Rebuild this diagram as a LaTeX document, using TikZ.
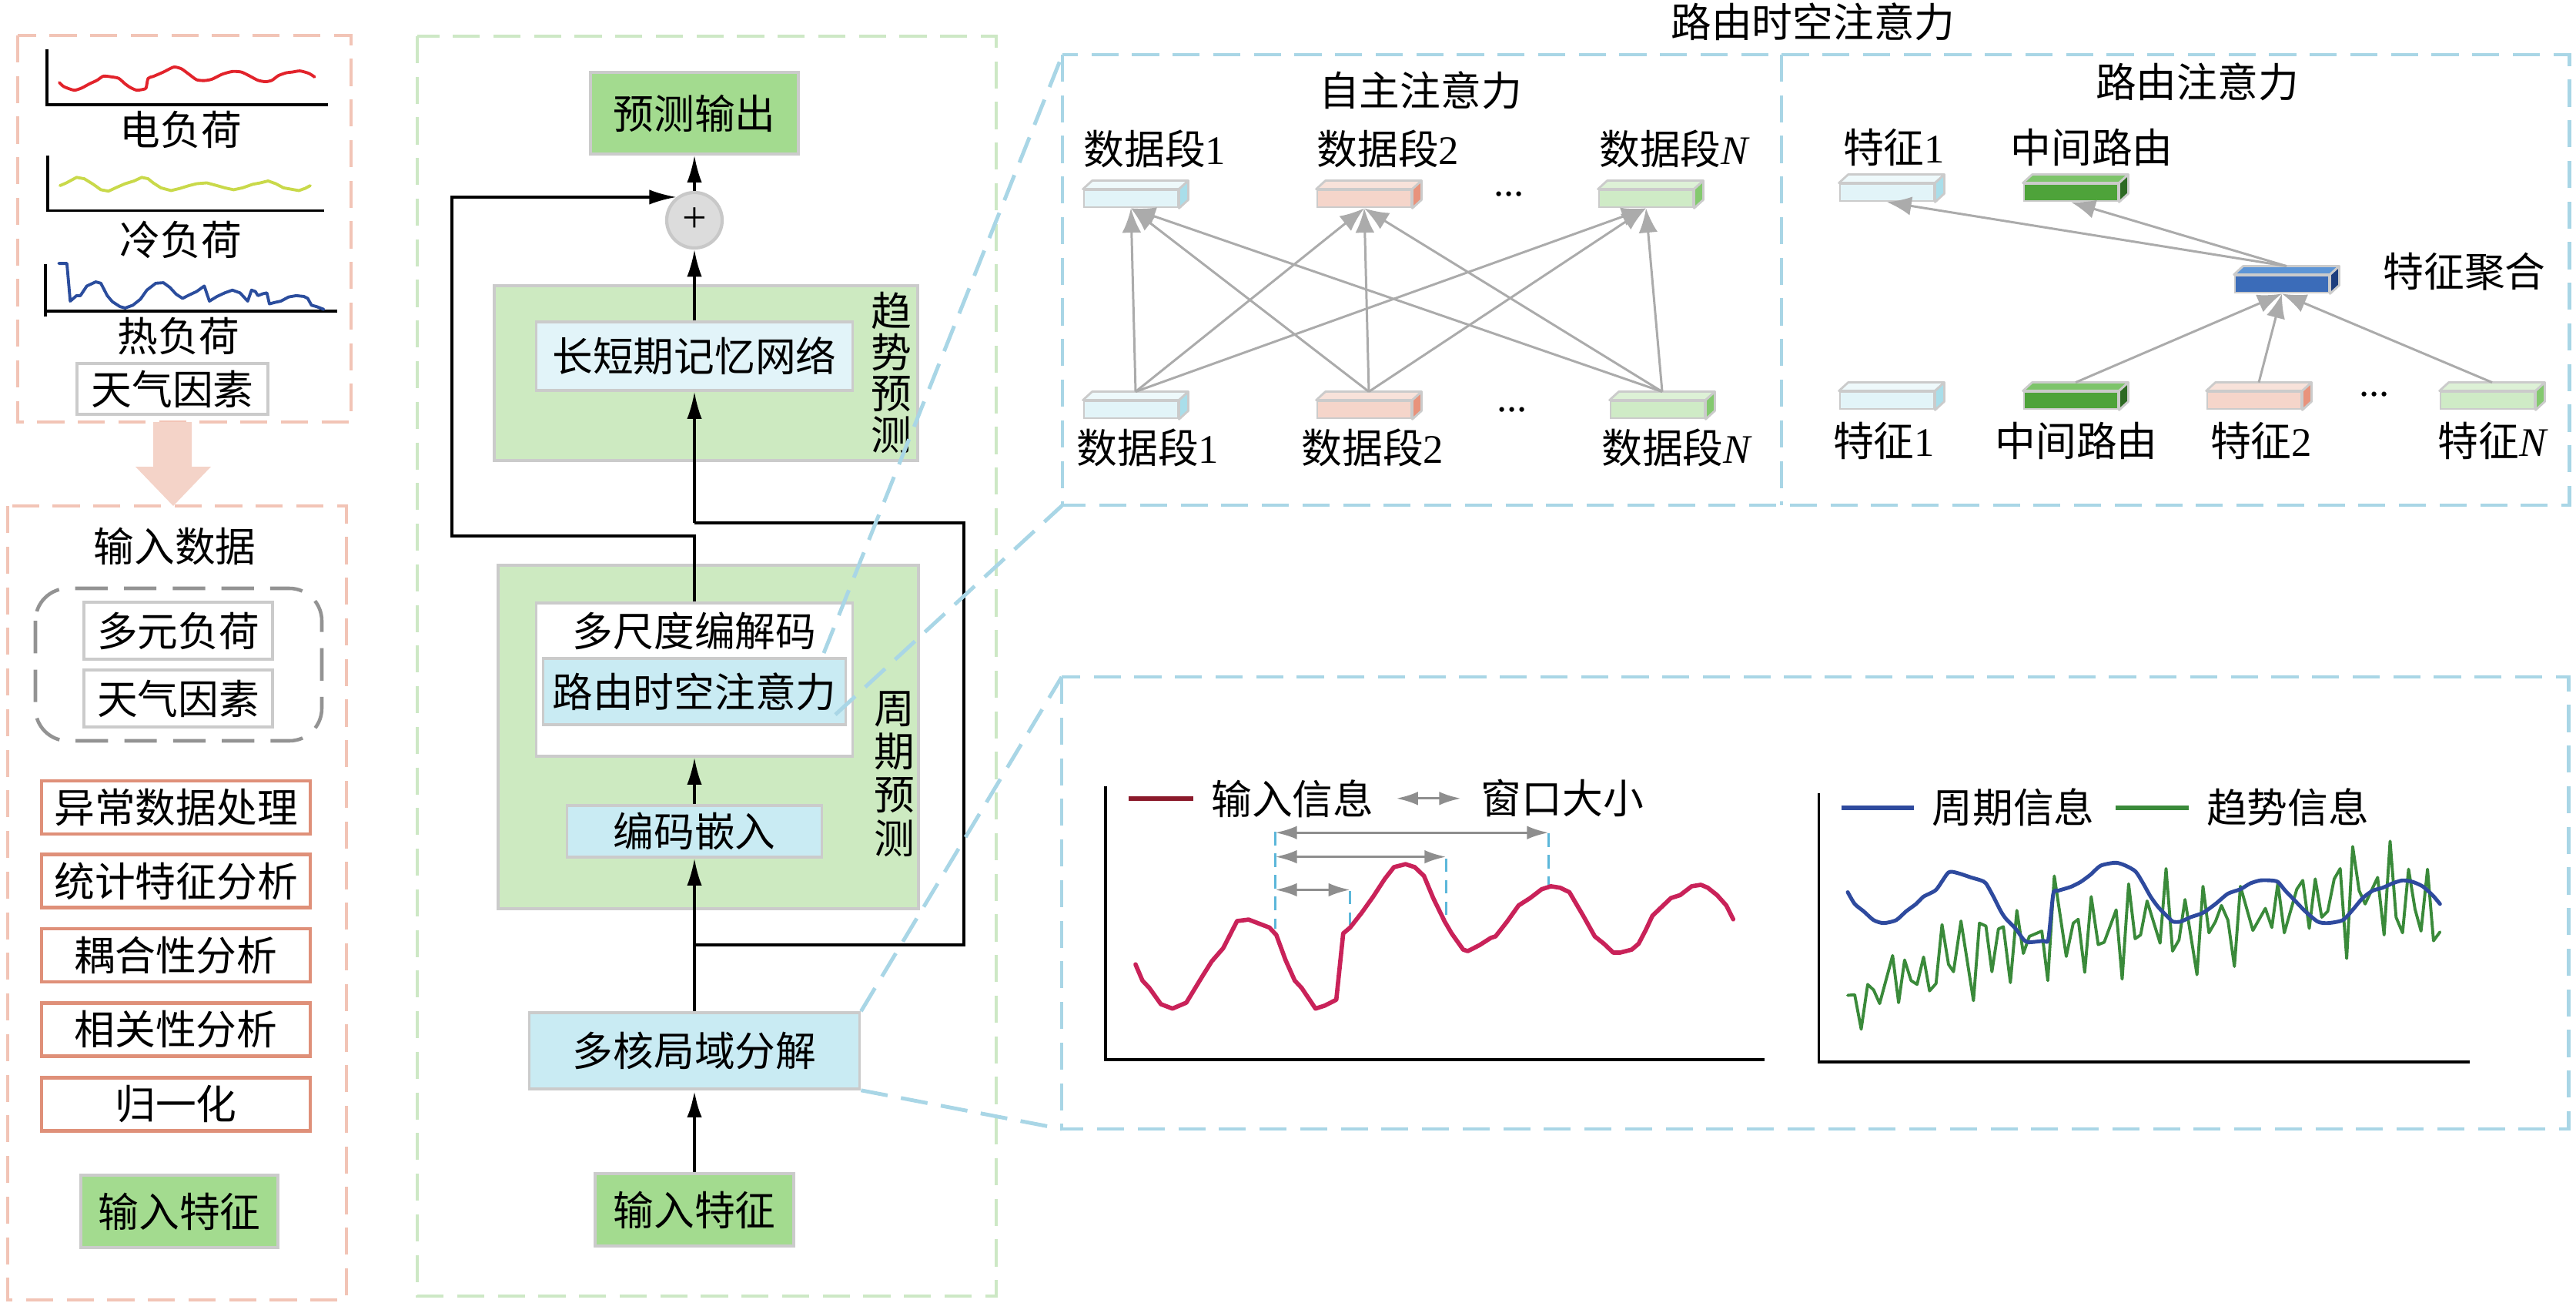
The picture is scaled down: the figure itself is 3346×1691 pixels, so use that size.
\documentclass[tikz,border=0pt]{standalone}
\usepackage{fontspec}
\setmainfont{Liberation Serif}
\newfontfamily\cjk{Noto Sans CJK SC}
\usetikzlibrary{arrows.meta,calc}
\definecolor{pinkb}{HTML}{F2C4B6}
\definecolor{pinkf}{HTML}{F4D3C8}
\definecolor{orb}{HTML}{DF9079}
\definecolor{greenb}{HTML}{CDE8C5}
\definecolor{blueb}{HTML}{A9D6E6}
\definecolor{gfill}{HTML}{A3DB8F}
\definecolor{panel}{HTML}{CDEAC1}
\definecolor{lstmf}{HTML}{E2F4F9}
\definecolor{bfill}{HTML}{C9EBF3}
\definecolor{bord}{HTML}{CBCBCB}
\definecolor{garr}{HTML}{ABABAB}
\definecolor{darr}{HTML}{8E8E8E}
\definecolor{crim}{HTML}{C92259}
\definecolor{dred}{HTML}{8B1A2B}
\definecolor{mkblue}{HTML}{5CB7DA}
\definecolor{nblue}{HTML}{2E4A9E}
\definecolor{ngreen}{HTML}{3A8A3A}
\definecolor{ygr}{HTML}{C9D94A}
\definecolor{ered}{HTML}{E2232B}
\definecolor{hblue}{HTML}{2B4D9D}
\definecolor{plusf}{HTML}{DCDCDC}
\definecolor{plusb}{HTML}{C8C8C8}
\definecolor{lbF}{HTML}{E2F4F8}\definecolor{lbT}{HTML}{EEF9FB}\definecolor{lbS}{HTML}{A9DEEA}
\definecolor{pkF}{HTML}{F5D5CA}\definecolor{pkT}{HTML}{F8E2DA}\definecolor{pkS}{HTML}{E8937C}
\definecolor{lgF}{HTML}{CFEBC6}\definecolor{lgT}{HTML}{DDF1D6}\definecolor{lgS}{HTML}{84C96F}
\definecolor{dgF}{HTML}{4EA33A}\definecolor{dgT}{HTML}{7DC46A}\definecolor{dgS}{HTML}{2D6A23}
\definecolor{blF}{HTML}{3B6CB9}\definecolor{blT}{HTML}{5D95D6}\definecolor{blS}{HTML}{1E3E7E}
\newcommand{\lt}[1]{{\rmfamily #1}}
\newcommand{\ltN}{{\rmfamily\itshape N}}
\newcommand{\cube}[6]{%
  \node[blkst, fill=#4] (#1) at (#2,#3) {};
  \filldraw[blkface, fill=#5] (#1.north west) -- ++(12,-11) -- ([shift={(12,-11)}]#1.north east) -- (#1.north east) -- cycle;
  \filldraw[blkface, fill=#6] (#1.north east) -- ++(12,-11) -- ([shift={(12,-11)}]#1.south east) -- (#1.south east) -- cycle;
}
\begin{document}
\begin{tikzpicture}[x=0.01cm, y=-0.01cm,
  every node/.style={font=\cjk\fontsize{15}{15}\selectfont, inner sep=0pt},
  box/.style={draw=bord, line width=1pt, inner sep=0pt},
  stepbox/.style={draw=orb, line width=1.2pt, minimum width=3.49cm, minimum height=0.69cm},
  arr/.style={-{Latex[length=10pt,width=5.5pt]}, line width=0.9pt},
  garrow/.style={-{Latex[length=9pt,width=7pt]}, line width=0.85pt, draw=garr},
  warrow/.style={{Latex[length=8pt,width=5pt]}-{Latex[length=8pt,width=5pt]}, line width=0.9pt, draw=darr},
  pinkdash/.style={draw=pinkb, line width=1.4pt, dash pattern=on 10pt off 5pt},
  greendash/.style={draw=greenb, line width=1.4pt, dash pattern=on 10pt off 5pt},
  bluedash/.style={draw=blueb, line width=1.4pt, dash pattern=on 10pt off 5pt},
  mkdash/.style={draw=mkblue, line width=1pt, dash pattern=on 5pt off 3pt},
  blkst/.style={draw=bord, line width=0.8pt, minimum width=1.22cm, minimum height=0.22cm, inner sep=0pt},
  blkface/.style={draw=bord, line width=0.8pt, line join=round},
  curve/.style={line join=round, line cap=round}]
\useasboundingbox (0,0) rectangle (3346,1691);

% ---------------- left column ----------------
\draw[pinkdash] (23,46) rectangle (456,548);
\begin{scope}[xscale=0.3317, yscale=0.3571]
  \draw[line width=1.1pt] (185,178) -- (185,380) -- (1283,380);
  \draw[line width=1.1pt] (187,565) -- (187,766) -- (1270,766);
  \draw[line width=1.1pt] (178,960) -- (178,1150);
  \draw[line width=1.1pt] (178,1132) -- (1320,1132);
  \draw[curve, ered, line width=1.1pt] plot[smooth, tension=0.4] coordinates {(232,300) (250,315) (290,328) (320,320) (350,305) (380,292) (405,277) (440,280) (465,285) (490,305) (510,318) (535,328) (560,325) (572,320) (580,285) (600,278) (640,262) (680,244) (710,250) (740,270) (770,290) (800,293) (830,288) (870,270) (910,260) (945,262) (975,275) (1010,292) (1040,297) (1065,292) (1090,275) (1120,265) (1145,262) (1175,258) (1210,267) (1232,280)};
  \draw[curve, ygr, line width=1.1pt] plot coordinates {(235,675) (260,665) (300,645) (330,650) (365,670) (395,690) (425,695) (460,680) (490,668) (525,658) (555,645) (580,650) (600,665) (630,683) (670,693) (705,685) (740,675) (770,668) (810,665) (850,675) (880,683) (915,690) (950,683) (990,670) (1020,665) (1050,658) (1080,668) (1110,683) (1140,688) (1170,693) (1195,685) (1215,675)};
  \draw[curve, hblue, line width=1.1pt] plot coordinates {(230,958) (262,958) (275,1095) (300,1075) (315,1075) (340,1040) (375,1025) (395,1030) (420,1075) (440,1097) (470,1115) (490,1120) (520,1110) (550,1088) (575,1055) (610,1030) (640,1028) (665,1045) (690,1070) (715,1085) (740,1073) (770,1060) (800,1040) (820,1095) (850,1078) (880,1065) (910,1055) (940,1065) (970,1095) (985,1055) (1000,1060) (1010,1075) (1030,1068) (1045,1065) (1055,1105) (1075,1100) (1100,1095) (1130,1080) (1160,1075) (1190,1078) (1205,1085) (1220,1110) (1240,1115) (1268,1125)};
\end{scope}
\node (elec) at (235,168) {电负荷};
\node (cold) at (235,311) {冷负荷};
\node (heat) at (232,437) {热负荷};
\node[box, minimum width=2.48cm, minimum height=0.66cm] (wthr1) at (224,505) {天气因素};

\fill[pinkf] (199,548) -- (249,548) -- (249,606) -- (274,606) -- (225,657) -- (176,606) -- (199,606) -- cycle;

\draw[pinkdash] (10,657) rectangle (450,1688);
\node (indata) at (227,709) {输入数据};
\draw[draw=gray!85, line width=1.3pt, dash pattern=on 12pt off 6pt, rounded corners=12pt] (46,764) rectangle (418,962);
\node[box, minimum width=2.45cm, minimum height=0.74cm] (mload) at (231.5,819) {多元负荷};
\node[box, minimum width=2.45cm, minimum height=0.74cm] (wthr2) at (231.5,907) {天气因素};
\node[stepbox] (s1) at (228.5,1048.5) {异常数据处理};
\node[stepbox] (s2) at (228.5,1144) {统计特征分析};
\node[stepbox] (s3) at (228.5,1240.5) {耦合性分析};
\node[stepbox] (s4) at (228.5,1337) {相关性分析};
\node[stepbox] (s5) at (228.5,1434) {归一化};
\node[box, fill=gfill, minimum width=2.56cm, minimum height=0.94cm] (inF1) at (233,1573) {输入特征};

% ---------------- middle column ----------------
\draw[greendash] (542,47) rectangle (1294,1683);
\node[box, fill=panel, minimum width=5.50cm, minimum height=2.27cm] (trend) at (917,484.5) {};
\node[box, fill=panel, minimum width=5.46cm, minimum height=4.46cm] (period) at (920,957) {};
\node[box, fill=gfill, minimum width=2.70cm, minimum height=1.06cm] (out) at (902,147) {预测输出};
\node[circle, fill=plusf, draw=plusb, line width=1.2pt, minimum size=0.72cm, font=\rmfamily\fontsize{16}{16}\selectfont] (plus) at (902,286) {+};
\node[box, fill=lstmf, minimum width=4.11cm, minimum height=0.89cm] (lstm) at (902,462.5) {长短期记忆网络};
\node[box, fill=white, minimum width=4.11cm, minimum height=1.99cm] (msed) at (902,882.5) {};
\node (msedt) at (902,819) {多尺度编解码};
\node[box, fill=bfill, minimum width=3.93cm, minimum height=0.86cm] (rsta) at (902,898) {路由时空注意力};
\node[box, fill=bfill, minimum width=3.31cm, minimum height=0.67cm] (embed) at (902,1079.5) {编码嵌入};
\node[box, fill=bfill, minimum width=4.29cm, minimum height=0.99cm] (mkld) at (902,1364.5) {多核局域分解};
\node[box, fill=gfill, minimum width=2.58cm, minimum height=0.94cm] (inF2) at (902,1571) {输入特征};
\node[align=center, font=\cjk\fontsize{15}{15.2}\selectfont] (trendT) at (1158,484) {趋\\势\\预\\测};
\node[align=center, font=\cjk\fontsize{15}{16}\selectfont] (periodT) at (1162,1005) {周\\期\\预\\测};

\draw[arr, line width=1.4pt] (inF2) -- (mkld);
\draw[arr] (mkld) -- (embed);
\draw[arr] (embed) -- (msed);
\coordinate (jn) at (902,1227);
\coordinate (rr1) at (1252,1227);
\coordinate (rr2) at (1252,679);
\coordinate (rr3) at (902,679);
\draw[line width=0.9pt] (jn) -- (rr1) -- (rr2) -- (rr3);
\draw[arr] (rr3) -- (lstm.south);
\coordinate (fl1) at (902,696);
\coordinate (fl2) at (587,696);
\draw[arr] (msed.north) -- (fl1) -- (fl2) -- (fl2 |- plus.128) -- (plus.128);
\draw[arr] (lstm) -- (plus);
\draw[arr] (plus) -- (out);

% ---------------- guide lines ----------------
\coordinate (attNW) at (1380,71);
\coordinate (attSW) at (1380,656);
\coordinate (lowNW) at (1379,879);
\coordinate (lowSW) at (1379,1466);
\coordinate (g1) at (1070,848);
\coordinate (g2) at (1085,928);
\draw[bluedash] (g1) -- (attNW);
\draw[bluedash] (g2) -- (attSW);
\draw[bluedash] (mkld.north east) -- (lowNW);
\draw[bluedash] (mkld.south east) -- (lowSW);

% ---------------- attention panel ----------------
\draw[bluedash] (attNW) rectangle (3337,656);
\draw[bluedash] (2314,71) -- (2314,656);
\node (rtitle) at (2355,28) {路由时空注意力};
\node (satitle) at (1845,117) {自主注意力};
\node (ratitle) at (2854,106) {路由注意力};

\cube{t1}{1469}{258}{lbF}{lbT}{lbS}
\cube{t2}{1772}{258}{pkF}{pkT}{pkS}
\cube{tN}{2138}{258}{lgF}{lgT}{lgS}
\cube{b1}{1469}{532}{lbF}{lbT}{lbS}
\cube{b2}{1772}{532}{pkF}{pkT}{pkS}
\cube{bN}{2153}{532}{lgF}{lgT}{lgS}
\node (dt) at (1960,252) {\lt{...}};
\node (db) at (1964,532) {\lt{...}};
\node (lt1) at (1500,193) {数据段\lt{1}};
\node (lt2) at (1803,193) {数据段\lt{2}};
\node (ltN) at (2174,193) {数据段\ltN};
\node (lb1) at (1491,581) {数据段\lt{1}};
\node (lb2) at (1783,581) {数据段\lt{2}};
\node (lbN) at (2177,581) {数据段\ltN};
\foreach \s in {b1,b2,bN} {
  \foreach \t in {t1,t2,tN} {
    \draw[garrow] ([shift={(6,-11)}]\s.north) -- (\t.south);
  }
}

\cube{rf1}{2451}{250}{lbF}{lbT}{lbS}
\cube{rmr}{2690}{250}{dgF}{dgT}{dgS}
\cube{agg}{2964}{369}{blF}{blT}{blS}
\cube{bf1}{2451}{520}{lbF}{lbT}{lbS}
\cube{bmr}{2690}{520}{dgF}{dgT}{dgS}
\cube{bf2}{2928}{520}{pkF}{pkT}{pkS}
\cube{bfN}{3231}{520}{lgF}{lgT}{lgS}
\node (dr) at (3084,512) {\lt{...}};
\node (lr1) at (2460,191) {特征\lt{1}};
\node (lrm) at (2717,191) {中间路由};
\node (lagg) at (3201,353) {特征聚合};
\node (lrb1) at (2447,572) {特征\lt{1}};
\node (lrbm) at (2697,572) {中间路由};
\node (lrb2) at (2937,572) {特征\lt{2}};
\node (lrbN) at (3237,572) {特征\ltN};
\draw[garrow] ([shift={(6,-11)}]agg.north) -- (rf1.south);
\draw[garrow] ([shift={(6,-11)}]agg.north) -- (rmr.south);
\draw[garrow] ([shift={(6,-11)}]bmr.north) -- (agg.south);
\draw[garrow] ([shift={(6,-11)}]bf2.north) -- (agg.south);
\draw[garrow] ([shift={(6,-11)}]bfN.north) -- (agg.south);

% ---------------- lower right panel ----------------
\draw[bluedash] (lowNW) rectangle (3336,1466);
\begin{scope}[shift={(1370,860)}, xscale=0.5995, yscale=0.3827]
  \draw[line width=1.1pt] (110,420) -- (110,1348) -- (1538,1348);
  \draw[dred, line width=1.8pt] (160,462) -- (300,462);
  \node (lin) at (515,462) {输入信息};
  \draw[warrow] (740,462) -- (880,462);
  \node (lwin) at (1100,462) {窗口大小};
  \draw[mkdash] (478,575) -- (478,905);
  \draw[mkdash] (640,775) -- (640,890);
  \draw[mkdash] (848,665) -- (848,880);
  \draw[mkdash] (1070,580) -- (1070,760);
  \draw[warrow] (478,578) -- (1070,578);
  \draw[warrow] (478,660) -- (848,660);
  \draw[warrow] (478,772) -- (640,772);
  \draw[curve, crim, line width=1.6pt] plot coordinates {(175,1025) (190,1080) (205,1105) (230,1160) (255,1175) (285,1155) (320,1065) (340,1015) (365,970) (395,878) (420,873) (440,885) (465,900) (480,925) (500,1010) (520,1080) (535,1105) (565,1175) (585,1165) (610,1145) (625,920) (640,900) (665,850) (690,795) (715,735) (735,695) (760,685) (780,695) (800,725) (820,800) (845,880) (860,920) (885,975) (895,980) (920,960) (945,935) (955,930) (980,880) (1005,825) (1030,800) (1055,770) (1075,760) (1095,765) (1115,780) (1130,820) (1145,860) (1170,930) (1190,955) (1210,985) (1225,985) (1250,975) (1265,955) (1280,910) (1295,860) (1315,830) (1335,800) (1355,790) (1380,760) (1400,755) (1415,765) (1435,790) (1455,825) (1470,872)};
\end{scope}
\begin{scope}[shift={(2330,860)}, xscale=0.6481, yscale=0.3827]
  \draw[line width=1.1pt] (50,445) -- (50,1355) -- (1355,1355);
  \draw[nblue, line width=1.6pt] (95,493) -- (240,493);
  \node (lper) at (440,493) {周期信息};
  \draw[ngreen, line width=1.6pt] (645,493) -- (792,493);
  \node (ltre) at (990,493) {趋势信息};
  \draw[curve, ngreen, line width=1.1pt] plot coordinates {(108,1130) (122,1128) (135,1245) (148,1093) (160,1112) (172,1158) (198,995) (210,1155) (222,1010) (235,1080) (247,1093) (260,1000) (272,1115) (285,1090) (297,890) (310,1025) (320,1050) (335,878) (360,1148) (372,885) (385,895) (397,1050) (410,905) (420,897) (434,1087) (447,842) (460,988) (472,930) (497,912) (509,1080) (522,725) (546,998) (560,885) (570,872) (583,1052) (596,795) (610,958) (622,950) (646,840) (658,1075) (671,752) (684,938) (695,925) (708,810) (734,953) (746,700) (759,980) (772,942) (784,805) (808,1060) (820,760) (832,918) (845,880) (857,825) (870,875) (883,1032) (895,760) (920,910) (945,835) (958,900) (970,750) (983,918) (1008,770) (1020,740) (1033,903) (1045,735) (1058,865) (1070,845) (1083,735) (1095,700) (1108,1005) (1120,625) (1133,775) (1145,820) (1170,730) (1183,925) (1195,607) (1207,865) (1220,918) (1232,702) (1245,838) (1257,912) (1270,702) (1282,945) (1295,915)};
  \draw[curve, nblue, line width=1.4pt] plot[smooth, tension=0.4] coordinates {(108,780) (122,820) (140,845) (160,875) (180,885) (205,875) (225,845) (245,820) (260,795) (285,772) (310,713) (330,716) (355,730) (375,740) (385,750) (400,795) (415,845) (425,870) (445,905) (460,940) (470,950) (500,945) (510,940) (520,785) (530,775) (555,762) (575,745) (595,720) (615,690) (645,680) (665,690) (685,710) (700,750) (715,795) (730,830) (750,865) (760,880) (775,880) (795,865) (820,850) (845,820) (870,785) (895,770) (915,750) (935,740) (955,740) (970,745) (985,775) (1005,810) (1025,845) (1050,880) (1070,885) (1100,875) (1120,840) (1140,800) (1160,775) (1180,765) (1200,750) (1220,740) (1240,745) (1260,760) (1280,790) (1295,820)};
\end{scope}
\end{tikzpicture}
\end{document}
